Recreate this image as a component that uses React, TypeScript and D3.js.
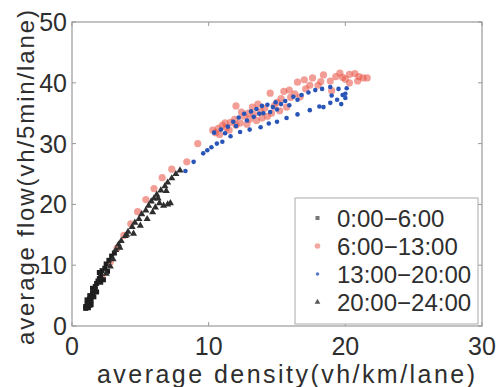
import React from 'react';
import * as d3 from 'd3';

type Pt = [number, number];

// 0:00-6:00 (squares)
const night: Pt[] = [
  [1.0, 3.2], [1.1, 3.6], [1.2, 3.9], [1.1, 4.3], [1.3, 4.5], [1.4, 4.2], [1.3, 5.0], [1.5, 5.4],
  [1.6, 5.8], [1.5, 6.2], [1.7, 6.5], [1.8, 7.0], [1.9, 7.4], [2.0, 7.8], [2.1, 8.3], [2.0, 8.8],
  [2.2, 9.1], [2.4, 9.5], [2.5, 10.2], [2.7, 10.8], [2.9, 11.5], [3.1, 12.0], [1.2, 3.0], [1.4, 3.5],
  [1.6, 4.8], [1.8, 5.6], [2.3, 7.6], [2.6, 9.0], [1.0, 2.9], [1.3, 3.4], [1.7, 6.0], [2.1, 7.2],
];

// 6:00-13:00 (circles)
const morning: Pt[] = [
  [2.2, 8.0], [2.8, 10.5], [3.3, 12.8], [3.8, 14.9], [4.3, 16.8], [4.8, 18.8], [5.4, 20.8], [6.0, 22.6],
  [6.6, 24.4], [7.3, 25.8], [8.4, 27.0], [9.2, 30.0], [10.3, 32.2], [10.5, 31.8], [10.7, 32.5], [11.0, 33.0],
  [11.3, 32.6], [11.6, 33.5], [11.9, 34.0], [12.3, 33.4], [12.6, 34.5], [12.9, 35.0], [13.0, 34.0], [13.3, 34.8],
  [13.5, 33.8], [13.8, 35.3], [14.1, 35.8], [14.3, 34.5], [14.5, 38.3], [14.8, 36.2], [15.0, 36.8], [15.3, 37.4],
  [15.7, 36.0], [16.0, 37.6], [16.5, 40.1], [16.7, 37.7], [17.1, 39.0], [17.6, 40.8], [18.0, 39.6], [18.4, 41.3],
  [18.9, 40.3], [19.3, 41.0], [19.6, 41.6], [20.0, 40.6], [20.3, 41.4], [20.3, 40.0], [20.7, 41.5], [21.0, 41.0],
  [21.3, 40.8], [21.6, 40.8], [12.0, 36.2], [13.6, 36.5], [15.5, 38.6], [19.0, 38.7],
  [10.8, 31.5], [11.2, 33.4], [11.5, 32.2], [12.0, 33.0], [12.4, 35.2], [12.8, 33.2], [13.2, 36.0], [13.9, 34.2],
  [14.6, 35.0], [15.2, 35.4], [15.9, 38.8], [16.3, 38.2], [17.0, 40.5], [17.4, 39.6], [18.2, 40.2], [19.8, 40.9],
  [20.9, 40.3],
];

// 13:00-20:00 (small dots)
const afternoon: Pt[] = [
  [8.3, 25.5], [8.9, 27.0], [9.6, 28.4], [10.2, 29.4], [11.0, 30.3], [11.6, 31.2], [12.3, 31.9], [13.0, 32.3],
  [13.8, 32.7], [14.4, 33.3], [15.0, 33.6], [15.7, 34.2], [16.5, 34.8], [17.4, 35.5], [18.4, 36.0], [19.4, 37.2],
  [20.0, 37.5], [19.7, 36.5], [18.9, 36.7], [18.1, 36.1],
  [10.4, 31.8], [10.9, 32.3], [11.4, 32.8], [11.8, 33.6], [12.2, 34.3], [12.6, 34.9], [13.1, 35.3], [13.5, 35.7],
  [13.9, 36.2], [14.3, 36.4], [14.7, 36.0], [15.0, 35.6], [15.3, 36.5], [15.6, 37.0], [16.2, 37.7], [16.8, 38.0],
  [17.3, 38.4], [17.8, 38.8], [18.3, 39.0], [18.9, 39.3], [19.5, 39.0], [20.1, 39.1], [20.0, 38.2], [14.0, 35.0],
  [12.8, 33.8], [11.2, 31.7], [13.3, 34.4], [13.7, 34.9], [14.5, 35.2], [14.9, 36.8], [15.9, 36.3], [16.5, 37.2],
  [12.0, 32.9], [10.6, 30.0], [9.9, 28.9], [19.0, 37.9], [19.8, 38.0],
];

// 20:00-24:00 (triangles)
const evening: Pt[] = [
  [3.2, 12.5], [3.4, 13.4], [3.6, 14.0], [3.9, 14.8], [4.1, 15.5], [4.4, 16.3], [4.6, 17.0], [4.9, 17.6],
  [5.1, 18.4], [5.4, 19.0], [5.6, 19.8], [5.8, 20.5], [6.0, 21.0], [6.2, 21.6], [6.5, 22.3], [6.8, 23.0],
  [7.0, 23.6], [7.3, 24.3], [7.6, 25.0], [7.9, 25.6], [6.1, 19.5], [6.4, 20.2], [6.7, 19.8], [7.0, 20.0],
  [7.2, 20.2], [5.9, 18.7], [5.5, 17.6], [5.0, 16.5], [4.5, 15.2], [2.5, 8.6], [2.8, 9.8], [3.0, 11.0],
  [3.5, 12.9], [4.0, 15.0], [6.3, 21.0], [6.9, 22.2],
];

const legendLabels = ['0:00−6:00', '6:00−13:00', '13:00−20:00', '20:00−24:00'];
const xTicks = [0, 10, 20, 30];
const yTicks = [0, 10, 20, 30, 40, 50];

const W = 496;
const H = 387;
const margin = { top: 22, right: 14, bottom: 61, left: 72 };
const font = '"Liberation Sans", Arial, sans-serif';
const textCol = '#2e2e2e';

const App: React.FC = () => {
  const x = d3.scaleLinear().domain([0, 30]).range([margin.left, W - margin.right]);
  const y = d3.scaleLinear().domain([0, 50]).range([H - margin.bottom, margin.top]);
  const tri = d3.symbol().type(d3.symbolTriangle).size(22)() as string;
  const triSmall = d3.symbol().type(d3.symbolTriangle).size(14)() as string;

  return (
    <svg width={W} height={H} style={{ position: 'absolute', left: 0, top: 0, background: '#fff' }}>
      {/* frame */}
      <rect x={x(0)} y={y(50)} width={x(30) - x(0)} height={y(0) - y(50)} fill="#fff" stroke="#999" strokeWidth={1.2} />
      {xTicks.map(t => (
        <g key={'xt' + t}>
          <line x1={x(t)} x2={x(t)} y1={y(0)} y2={y(0) - 4} stroke="#999" />
          <line x1={x(t)} x2={x(t)} y1={y(50)} y2={y(50) + 4} stroke="#999" />
          <text x={x(t)} y={y(0) + 29} textAnchor="middle" fontSize={25} fontFamily={font} fill={textCol}>{t}</text>
        </g>
      ))}
      {yTicks.map(t => (
        <g key={'yt' + t}>
          <line x1={x(0)} x2={x(0) + 4} y1={y(t)} y2={y(t)} stroke="#999" />
          <line x1={x(30)} x2={x(30) - 4} y1={y(t)} y2={y(t)} stroke="#999" />
          <text x={x(0) - 5} y={y(t) + 9} textAnchor="end" fontSize={25} fontFamily={font} fill={textCol}>{t}</text>
        </g>
      ))}

      {/* data */}
      <g>
        {morning.map((p, i) => (
          <circle key={i} cx={x(p[0])} cy={y(p[1])} r={3.6} fill="#e8584a" fillOpacity={0.58} />
        ))}
      </g>
      <g>
        {afternoon.map((p, i) => (
          <circle key={i} cx={x(p[0])} cy={y(p[1])} r={2.3} fill="#2a55b8" />
        ))}
      </g>
      <g>
        {night.map((p, i) => (
          <rect key={i} x={x(p[0]) - 2.5} y={y(p[1]) - 2.5} width={5} height={5} fill="#1e1e1e" />
        ))}
      </g>
      <g>
        {evening.map((p, i) => (
          <path key={i} d={tri} transform={`translate(${x(p[0])},${y(p[1])})`} fill="#2e2e2e" />
        ))}
      </g>

      {/* legend */}
      <g transform="translate(295,198)">
        <rect x={0} y={0} width={183} height={126} fill="#fff" stroke="#aaa" />
        {legendLabels.map((l, i) => {
          const cy = 20 + i * 28;
          return (
            <g key={l}>
              {i === 0 && <rect x={20.5} y={cy - 2} width={4} height={4} fill="#777" />}
              {i === 1 && <circle cx={22.5} cy={cy} r={2.8} fill="#f2a8a0" />}
              {i === 2 && <circle cx={22.5} cy={cy} r={1.8} fill="#6078c8" />}
              {i === 3 && <path d={triSmall} transform={`translate(22.5,${cy})`} fill="#555" />}
              <text x={42} y={cy + 9} fontSize={24} fontFamily={font} fill={textCol}>{l}</text>
            </g>
          );
        })}
      </g>

      {/* axis labels */}
      <text x={97} y={383} textLength={378} lengthAdjust="spacing" fontSize={25} fontFamily={font} fill={textCol}>
        average density(vh/km/lane)
      </text>
      <text transform="translate(34,345) rotate(-90)" textLength={335} lengthAdjust="spacing" fontSize={24} fontFamily={font} fill={textCol}>
        average flow(vh/5min/lane)
      </text>
    </svg>
  );
};

export default App;
